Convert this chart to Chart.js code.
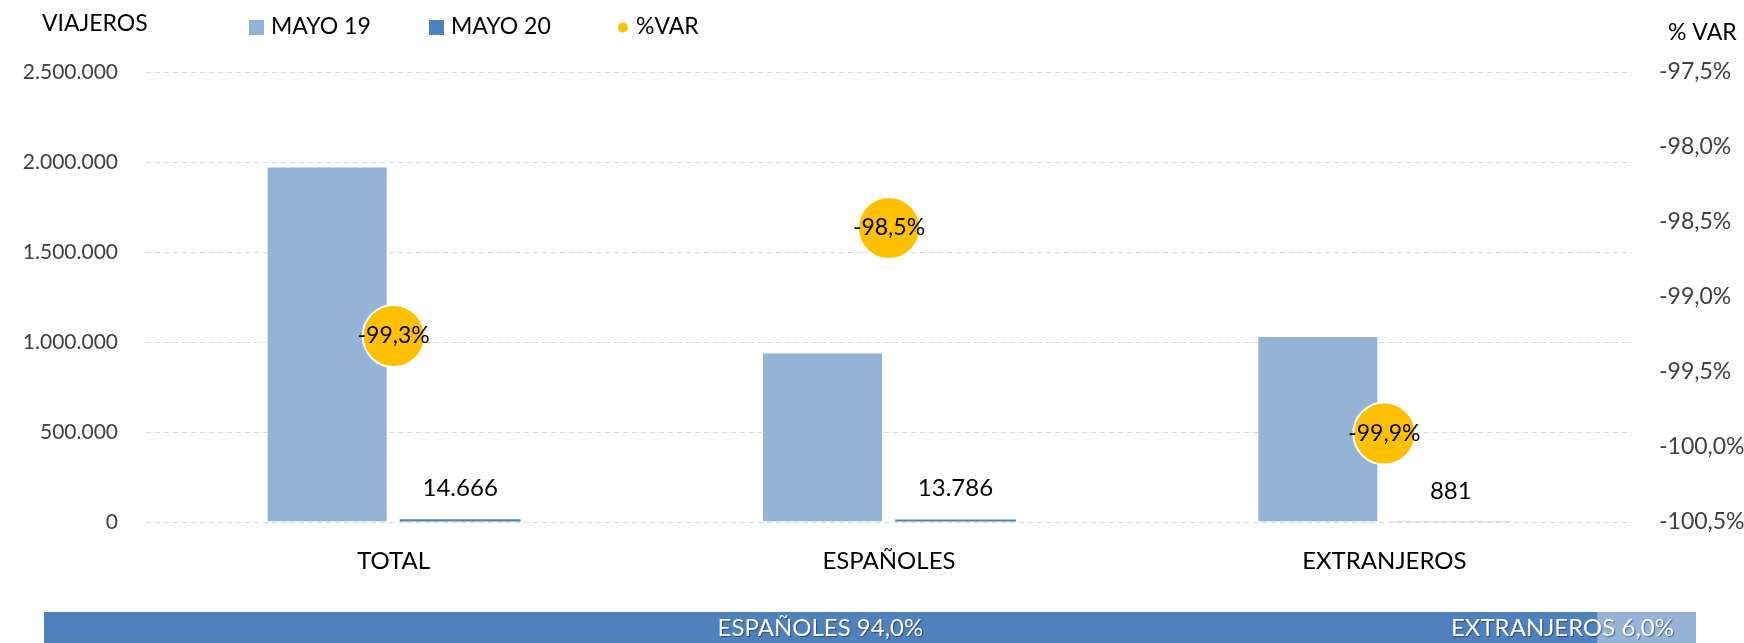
<!DOCTYPE html>
<html><head><meta charset="utf-8">
<script src="https://cdn.jsdelivr.net/npm/chart.js@4"></script>
<style>
html,body{margin:0;padding:0;background:#fff;width:1744px;height:643px;overflow:hidden}
#main{position:absolute;left:0;top:0;width:1744px;height:600px}
#strip{position:absolute;left:44px;top:612px;width:1652px;height:31px}
</style></head><body>
<div id="main"><canvas id="c1" width="1744" height="600"></canvas></div>
<div id="strip"><canvas id="c2" width="1652" height="31"></canvas></div>
<script>
// ---- data ----
const categories = ['TOTAL', 'ESPAÑOLES', 'EXTRANJEROS'];
const seriesNames = ['MAYO 19', 'MAYO 20', '%VAR'];
const mayo19 = [1975000, 941000, 1034000];
const mayo20 = [14666, 13786, 881];
const varPct = [-99.26, -98.54, -99.91];
const varLabels = ['-99,3%', '-98,5%', '-99,9%'];
const leftAxis = { min: 0, max: 2500000, step: 500000, title: 'VIAJEROS' };
const rightAxis = { min: -100.5, max: -97.5, step: 0.5, title: '% VAR' };
const shareNames = ['ESPAÑOLES', 'EXTRANJEROS'];
const shares = [94.0, 6.0];
const shareLabels = ['ESPAÑOLES 94,0%', 'EXTRANJEROS 6,0%'];

const FONT = 'Lato, "Open Sans", sans-serif';
const C19 = '#95B3D7', C20 = '#4F81BD', CVAR = '#FFC000';

function fmtThousands(n) {
  return String(Math.round(n)).replace(/\B(?=(\d{3})+(?!\d))/g, '.');
}
function fmtPct(v) { return v.toFixed(1).replace('.', ',') + '%'; }

const overlay = {
  id: 'overlay',
  afterDatasetsDraw(chart) {
    const ctx = chart.ctx;
    ctx.save();
    ctx.fillStyle = '#000';
    ctx.textAlign = 'center';
    ctx.textBaseline = 'middle';
    // MAYO 20 value labels
    ctx.font = '24px ' + FONT;
    const m1 = chart.getDatasetMeta(1);
    m1.data.forEach((bar, i) => {
      ctx.fillText(fmtThousands(mayo20[i]), bar.x, bar.y - 31);
    });
    // %VAR labels
    ctx.font = '23px ' + FONT;
    const m2 = chart.getDatasetMeta(2);
    m2.data.forEach((pt, i) => {
      ctx.fillText(varLabels[i], pt.x, pt.y);
    });
    ctx.restore();
  },
  afterDraw(chart) {
    const ctx = chart.ctx;
    ctx.save();
    ctx.fillStyle = '#000';
    ctx.font = '23px ' + FONT;
    ctx.textBaseline = 'middle';
    ctx.textAlign = 'left';
    ctx.fillText(leftAxis.title, 42, 24);
    ctx.fillText(rightAxis.title, 1668, 33);
    // legend
    const ds = chart.data.datasets;
    const items = [
      { box: 249, text: 271, type: 'rect' },
      { box: 429, text: 451, type: 'rect' },
      { box: 623, text: 636, type: 'dot' }
    ];
    items.forEach((it, i) => {
      const d = ds[i];
      ctx.fillStyle = d.type === 'line' ? d.pointBackgroundColor : d.backgroundColor;
      if (it.type === 'rect') {
        ctx.fillRect(it.box, 20, 15, 15);
      } else {
        ctx.beginPath(); ctx.arc(it.box, 27.5, 5, 0, Math.PI * 2); ctx.fill();
      }
      ctx.fillStyle = '#000';
      ctx.fillText(d.label, it.text, 27);
    });
    ctx.restore();
  }
};

new Chart(document.getElementById('c1'), {
  data: {
    labels: categories,
    datasets: [
      { type: 'bar', label: seriesNames[0], data: mayo19, backgroundColor: C19, borderColor: '#ffffff', borderWidth: 1,
        yAxisID: 'y', order: 2, categoryPercentage: 0.537, barPercentage: 0.91 },
      { type: 'bar', label: seriesNames[1], data: mayo20, backgroundColor: C20, borderWidth: 0,
        yAxisID: 'y', order: 2, categoryPercentage: 0.537, barPercentage: 0.91 },
      { type: 'line', label: seriesNames[2], data: varPct, yAxisID: 'y1', order: 0, showLine: false,
        pointRadius: 31, pointHoverRadius: 31, pointBackgroundColor: CVAR, pointBorderColor: '#ffffff',
        pointBorderWidth: 2, backgroundColor: CVAR, borderColor: CVAR }
    ]
  },
  options: {
    responsive: false,
    animation: false,
    events: [],
    layout: { padding: { top: 72, left: 0, right: 0, bottom: 0 } },
    plugins: { legend: { display: false }, tooltip: { enabled: false } },
    scales: {
      x: {
        grid: { display: false, drawTicks: false },
        border: { display: false },
        ticks: { color: '#000', font: { family: FONT, size: 24 }, padding: 25 },
        afterFit(s) { s.height = 78; }
      },
      y: {
        position: 'left',
        min: leftAxis.min, max: leftAxis.max,
        grid: { color: '#D9D9D9', drawTicks: false, lineWidth: 1 },
        border: { display: false, dash: [5, 4] },
        ticks: { stepSize: leftAxis.step, color: '#404040', font: { family: FONT, size: 21 }, padding: 28,
          callback: v => fmtThousands(v) },
        afterFit(s) { s.width = 146; }
      },
      y1: {
        position: 'right',
        min: rightAxis.min, max: rightAxis.max,
        grid: { display: false, drawTicks: false },
        border: { display: false },
        ticks: { stepSize: rightAxis.step, color: '#404040', font: { family: FONT, size: 23 }, padding: 27,
          callback: v => fmtPct(v) },
        afterFit(s) { s.width = 112; }
      }
    }
  },
  plugins: [overlay]
});

const stripLabels = {
  id: 'stripLabels',
  afterDatasetsDraw(chart) {
    const ctx = chart.ctx;
    const a = chart.chartArea;
    const b0 = chart.getDatasetMeta(0).data[0];
    ctx.save();
    ctx.font = '24px ' + FONT;
    ctx.fillStyle = '#fff';
    ctx.textBaseline = 'middle';
    ctx.shadowColor = 'rgba(0,0,40,0.45)';
    ctx.shadowOffsetX = 1; ctx.shadowOffsetY = 1; ctx.shadowBlur = 1;
    const cy = (a.top + a.bottom) / 2 + 1;
    ctx.textAlign = 'center';
    ctx.fillText(shareLabels[0], (b0.base + b0.x) / 2, cy);
    ctx.textAlign = 'right';
    ctx.fillText(shareLabels[1], a.right - 22, cy);
    ctx.restore();
  }
};

new Chart(document.getElementById('c2'), {
  type: 'bar',
  data: {
    labels: [''],
    datasets: [
      { label: shareNames[0], data: [shares[0]], backgroundColor: C20 },
      { label: shareNames[1], data: [shares[1]], backgroundColor: C19 }
    ]
  },
  options: {
    indexAxis: 'y',
    responsive: false,
    animation: false,
    events: [],
    layout: { padding: 0 },
    datasets: { bar: { barPercentage: 1, categoryPercentage: 1, borderWidth: 0 } },
    plugins: { legend: { display: false }, tooltip: { enabled: false } },
    scales: {
      x: { stacked: true, min: 0, max: 100, display: false },
      y: { stacked: true, display: false }
    }
  },
  plugins: [stripLabels]
});
</script>
</body></html>
